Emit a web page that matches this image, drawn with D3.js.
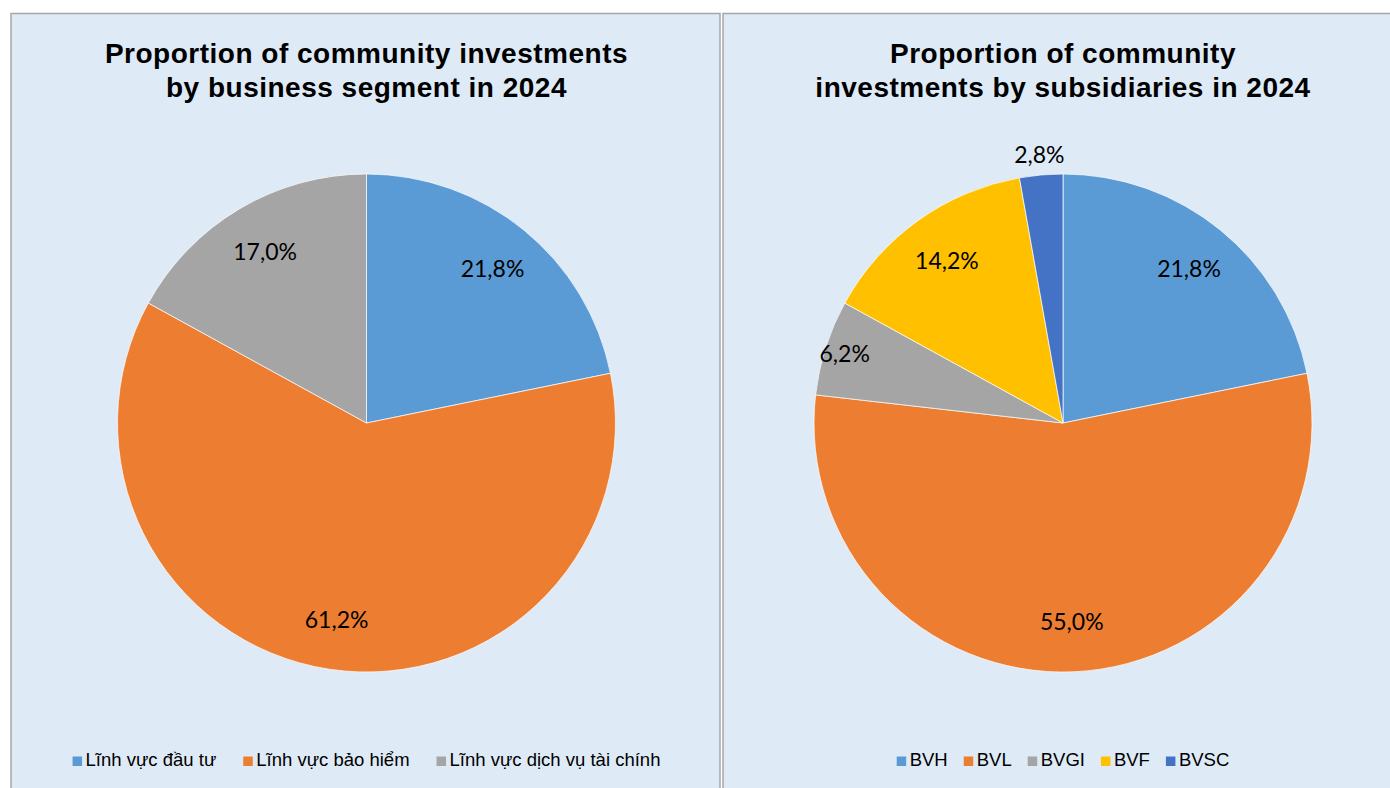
<!DOCTYPE html>
<html><head><meta charset="utf-8">
<script src="https://cdn.jsdelivr.net/npm/d3@7"></script>
<style>html,body{margin:0;padding:0;background:#fff;}svg{display:block;}</style>
</head><body>
<svg id="c" width="1390" height="788"></svg>
<script>
// ---- data ----
const segTitle = ["Proportion of community investments", "by business segment in 2024"];
const segCategories = ["Lĩnh vực đầu tư", "Lĩnh vực bảo hiểm", "Lĩnh vực dịch vụ tài chính"];
const segValues = [21.8, 61.2, 17.0];
const segColors = ["#5B9BD5", "#ED7D31", "#A5A5A5"];

const subTitle = ["Proportion of community", "investments by subsidiaries in 2024"];
const subCategories = ["BVH", "BVL", "BVGI", "BVF", "BVSC"];
const subValues = [21.8, 55.0, 6.2, 14.2, 2.8];
const subColors = ["#5B9BD5", "#ED7D31", "#A5A5A5", "#FFC000", "#4472C4"];

const svg = d3.select("#c");
const fmt = v => d3.format(".1f")(v).replace(".", ",") + "%";

function panel(x0, w, title, cats, vals, cols, legendGap) {
  const g = svg.append("g");
  g.append("rect").attr("x", x0).attr("y", 13.5).attr("width", w).attr("height", 800)
    .attr("fill", "#DEEAF6").attr("stroke", "#A6A6A6").attr("stroke-width", 1.5);
  const cx = x0 + w / 2 + 1, cy = 423, r = 249;
  // title
  const t = g.append("text").attr("text-anchor", "middle")
    .attr("font-family", "'Liberation Sans', Arial, sans-serif").attr("font-weight", "bold")
    .attr("font-size", 28).attr("letter-spacing", 0.5).attr("fill", "#000");
  title.forEach((line, i) => t.append("tspan").attr("x", cx).attr("y", 63 + i * 34).text(line));
  // pie
  const pie = d3.pie().sort(null).value(d => d)(vals);
  const arc = d3.arc().innerRadius(0).outerRadius(r);
  const pg = g.append("g").attr("transform", `translate(${cx},${cy})`);
  pg.selectAll("path").data(pie).join("path").attr("d", arc)
    .attr("fill", (d, i) => cols[i]).attr("stroke", "#ffffff").attr("stroke-opacity", 0.7).attr("stroke-width", 1);
  const labelArc = d3.arc().innerRadius(r * 0.8).outerRadius(r * 0.8);
  const midArc = d3.arc().innerRadius(r * 0.92).outerRadius(r * 0.92);
  const outArc = d3.arc().innerRadius(r + 20).outerRadius(r + 20);
  pg.selectAll("text").data(pie).join("text")
    .attr("transform", d => {
      const v = d.data;
      const a = v < 5 ? outArc : (v < 10 ? midArc : labelArc);
      const c = a.centroid(d);
      return `translate(${c[0]},${c[1]})`;
    })
    .attr("text-anchor", "middle").attr("dy", "0.35em")
    .attr("font-family", "Lato, 'Open Sans', sans-serif").attr("font-size", 23).attr("fill", "#000")
    .text(d => fmt(d.data));
  // legend
  const lg = g.append("g");
  const items = lg.selectAll("g").data(cats).join("g");
  items.append("rect").attr("width", 9.5).attr("height", 9.5).attr("y", -9.5)
    .attr("fill", (d, i) => cols[i]);
  items.append("text").attr("x", 13).attr("y", 0)
    .attr("font-family", "'Liberation Sans', Arial, sans-serif").attr("font-size", 18.5).attr("fill", "#000")
    .text(d => d);
  let x = 0;
  items.each(function (d, i) {
    const tw = d3.select(this).select("text").node().getComputedTextLength();
    d3.select(this).attr("transform", `translate(${x},0)`);
    x += 13 + tw + legendGap;
  });
  const total = x - legendGap;
  lg.attr("transform", `translate(${cx - total / 2},766)`);
}

panel(11, 709, segTitle, segCategories, segValues, segColors, 27);
panel(723, 678, subTitle, subCategories, subValues, subColors, 16);
</script>
</body></html>
